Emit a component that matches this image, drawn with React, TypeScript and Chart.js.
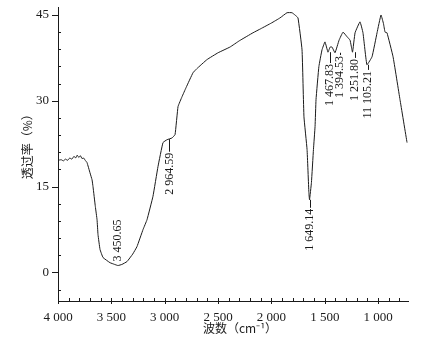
import React, { useEffect, useRef } from "react";
import { Chart, registerables } from "chart.js";

Chart.register(...registerables);

// Spectrum (wavenumber cm-1, transmittance %)
const wavenumbers = [
  4000, 3970, 3950, 3930, 3910, 3890, 3870, 3850, 3835, 3820, 3805, 3790, 3775, 3760, 3745, 3728,
  3700, 3681, 3672, 3650, 3634, 3625, 3606, 3578, 3513, 3470, 3438, 3400, 3353, 3300, 3260, 3203,
  3166, 3110, 3063, 3016, 2978, 2932, 2903, 2875, 2838, 2800, 2735, 2700, 2604, 2500, 2388, 2300,
  2172, 2100, 2000, 1919, 1854, 1807, 1779, 1751, 1713, 1695, 1666, 1649, 1643, 1625, 1606, 1591,
  1582, 1555, 1526, 1498, 1470, 1450, 1432, 1404, 1366, 1329, 1291, 1263, 1240, 1216, 1170, 1142,
  1105, 1057, 1010, 973, 950, 935, 917, 860, 795, 729,
];
const transmittance = [
  19.6, 19.7, 19.5, 19.8, 19.6, 20.0, 19.8, 20.3, 20.0, 20.5, 20.1, 20.4, 19.9, 20.0, 19.6, 19.2,
  17.4, 16.2, 15.0, 11.5, 9.2, 6.6, 4.0, 2.6, 1.7, 1.4, 1.2, 1.4, 1.9, 3.2, 4.5, 7.5,
  9.2, 13.3, 18.5, 22.7, 23.2, 23.5, 24.1, 29.0, 30.7, 32.3, 34.9, 35.6, 37.2, 38.4, 39.4, 40.5,
  41.9, 42.6, 43.6, 44.5, 45.4, 45.4, 45.0, 44.5, 38.9, 27.2, 21.5, 14.0, 12.7, 15.7, 21.5, 25.5,
  30.2, 36.0, 38.9, 40.3, 38.5, 39.4, 39.4, 38.4, 40.6, 42.0, 41.2, 40.6, 38.5, 41.9, 43.8, 41.9,
  36.3, 37.7, 41.9, 45.0, 43.5, 42.0, 41.9, 37.7, 30.2, 22.7,
];

const xMajorTicks = [4000, 3500, 3000, 2500, 2000, 1500, 1000];
const yMajorTicks = [0, 15, 30, 45];

const peakLabels = ["3 450.65", "2 964.59", "1 649.14", "1 467.83", "1 394.53", "1 251.80", "11 105.21"];
const peakWavenumbers = [3450.65, 2964.59, 1649.14, 1467.83, 1394.53, 1251.8, 1105.21];

// annotation layout (styling only)
const peakLayout = [
  { dx: 1, mode: "up", textT: 1.9, leaderT: null },
  { dx: 1, mode: "down", textT: 21.1, leaderT: 23.3 },
  { dx: 1, mode: "down", textT: 11.3, leaderT: 12.7 },
  { dx: 2, mode: "down", textT: 36.6, leaderT: 38.5 },
  { dx: 4, mode: "down", textT: 38.0, leaderT: 38.4 },
  { dx: 4, mode: "down", textT: 37.5, leaderT: 38.5 },
  { dx: 1, mode: "down", textT: 35.4, leaderT: 36.3 },
];

const SERIF = "'Liberation Serif', 'DejaVu Serif', serif";
const CJK = "'Noto Sans CJK SC', 'Noto Sans CJK JP', sans-serif";
const INK = "#1a1a1a";

const fmt = (v: number) => {
  const s = String(Math.round(v));
  return s.length > 3 ? s.slice(0, s.length - 3) + " " + s.slice(-3) : s;
};

const decorPlugin = {
  id: "irDecor",
  afterDraw(chart: any) {
    const { ctx, chartArea, scales } = chart;
    const xs = scales.x;
    const ys = scales.y;
    ctx.save();
    ctx.strokeStyle = INK;
    ctx.fillStyle = INK;
    ctx.lineWidth = 1;

    // x tick marks (every 100, majors every 500)
    for (let v = 4000; v >= 800; v -= 100) {
      const px = Math.round(xs.getPixelForValue(v)) + 0.5;
      const major = v % 500 === 0;
      ctx.beginPath();
      ctx.moveTo(px, chartArea.bottom + (major ? 3 : 0));
      ctx.lineTo(px, chartArea.bottom - 3);
      ctx.stroke();
    }
    // y tick marks (every 3, majors every 15)
    for (let v = -3; v <= 45; v += 3) {
      const py = Math.round(ys.getPixelForValue(v)) + 0.5;
      const major = v % 15 === 0;
      ctx.beginPath();
      if (major) {
        ctx.moveTo(chartArea.left - 6, py);
        ctx.lineTo(chartArea.left, py);
      } else {
        ctx.moveTo(chartArea.left, py);
        ctx.lineTo(chartArea.left + 3, py);
      }
      ctx.stroke();
    }

    // peak annotations
    ctx.font = `12px ${SERIF}`;
    ctx.textBaseline = "middle";
    peakLabels.forEach((label, i) => {
      const lay = peakLayout[i];
      const px = xs.getPixelForValue(peakWavenumbers[i]) + lay.dx;
      const ty = ys.getPixelForValue(lay.textT);
      if (lay.leaderT !== null) {
        const ly = ys.getPixelForValue(lay.leaderT);
        ctx.beginPath();
        ctx.moveTo(Math.round(px) + 0.5, ly);
        ctx.lineTo(Math.round(px) + 0.5, ty);
        ctx.stroke();
      }
      ctx.save();
      ctx.translate(px, ty);
      ctx.rotate(-Math.PI / 2);
      ctx.textAlign = lay.mode === "up" ? "left" : "right";
      ctx.fillText(label, lay.mode === "up" ? 0 : -1, 0);
      ctx.restore();
    });

    // axis titles
    ctx.font = `12px ${CJK}`;
    ctx.textAlign = "center";
    ctx.textBaseline = "middle";
    ctx.fillText("波数（cm⁻¹）", (chartArea.left + chartArea.right) / 2 + 7, chartArea.bottom + 27);
    ctx.save();
    ctx.translate(27, (ys.getPixelForValue(30) + ys.getPixelForValue(15)) / 2);
    ctx.rotate(-Math.PI / 2);
    ctx.fillText("透过率（%）", 0, 0);
    ctx.restore();

    ctx.restore();
  },
};

export default function App() {
  const ref = useRef<HTMLCanvasElement | null>(null);
  useEffect(() => {
    document.body.style.margin = "0";
    const canvas = ref.current!;
    const points = wavenumbers.map((w, i) => ({ x: w, y: transmittance[i] }));
    const chart = new Chart(canvas, {
      type: "line",
      data: {
        datasets: [
          {
            data: points,
            borderColor: INK,
            borderWidth: 1,
            pointRadius: 0,
            tension: 0.1,
            fill: false,
          },
        ],
      },
      options: {
        animation: false,
        responsive: false,
        devicePixelRatio: 1,
        layout: { padding: { top: 7, right: 16, bottom: 0, left: 0 } },
        plugins: { legend: { display: false }, tooltip: { enabled: false } },
        scales: {
          x: {
            type: "linear",
            reverse: true,
            min: 720,
            max: 4000,
            afterFit: (s: any) => {
              s.height = 45;
              s.paddingLeft = 0;
              s.paddingRight = 0;
            },
            afterBuildTicks: (s: any) => {
              s.ticks = xMajorTicks.map((v) => ({ value: v }));
            },
            grid: { display: false, drawTicks: false },
            border: { display: true, color: INK, width: 1 },
            ticks: {
              autoSkip: false,
              maxRotation: 0,
              padding: 9,
              color: INK,
              font: { family: SERIF, size: 13 },
              callback: (v: any) => fmt(Number(v)),
            },
          },
          y: {
            type: "linear",
            min: -5,
            max: 46.4,
            afterFit: (s: any) => {
              s.width = 58;
              s.paddingTop = 0;
              s.paddingBottom = 0;
            },
            afterBuildTicks: (s: any) => {
              s.ticks = yMajorTicks.map((v) => ({ value: v }));
            },
            grid: { display: false, drawTicks: false },
            border: { display: true, color: INK, width: 1 },
            ticks: {
              autoSkip: false,
              padding: 9,
              color: INK,
              font: { family: SERIF, size: 13 },
              callback: (v: any) => String(v),
            },
          },
        },
      },
      plugins: [decorPlugin],
    });
    return () => chart.destroy();
  }, []);
  return (
    <div style={{ width: 424, height: 346, background: "#fff" }}>
      <canvas ref={ref} width={424} height={346} style={{ display: "block", width: 424, height: 346 }} />
    </div>
  );
}
